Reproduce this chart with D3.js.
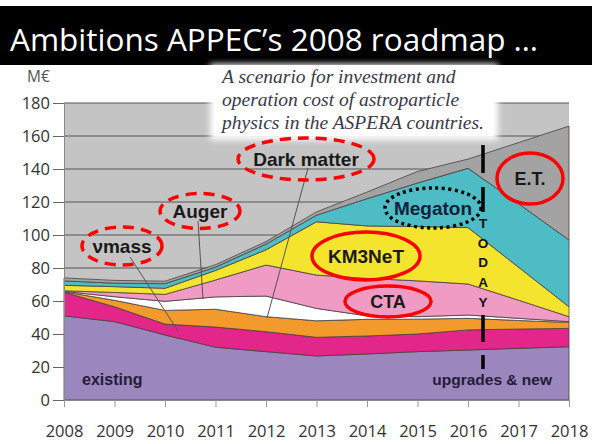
<!DOCTYPE html>
<html>
<head>
<meta charset="utf-8">
<script src="https://cdn.jsdelivr.net/npm/d3@7"></script>
<style>
  body { margin: 0; background: #fff; }
  svg { display: block; }
</style>
</head>
<body>
<div id="chart"></div>
<script>
// years on the x axis
const years = [2008, 2009, 2010, 2011, 2012, 2013, 2014, 2015, 2016, 2017, 2018];

// layer thicknesses in M€, bottom to top
const existing = [51, 47.5, 39.4, 32, 29.3, 26.7, 27.9, 29.3, 30.3, 31.3, 32.3];
const vmass    = [14.3, 9, 6.6, 12.2, 12.1, 11.3, 10.9, 10.7, 12.2, 11.7, 11.1];
const darkMatter = [0.3, 3.9, 8.3, 10.8, 9.1, 10, 10.1, 9, 7, 5.2, 3.6];
const auger    = [0.2, 2.2, 5.5, 7.5, 12.5, 7.5, 2.1, 1.5, 2, 1.3, 0.5];
const cta      = [0.4, 2.6, 4.2, 10.2, 18.8, 20.2, 22.7, 21.7, 18.8, 11, 3];
const km3net   = [3.3, 3.5, 3.7, 5.8, 9.2, 32.3, 31.8, 32.9, 34.2, 20, 6];
const megaton  = [2.7, 2.1, 2.8, 2, 3.5, 4, 16.5, 26.4, 35.9, 38.5, 40.5];
const et       = [1.8, 1.7, 1.5, 1.5, 1.5, 2, 4, 7, 5.6, 37, 69];

const layerKeys = ["existing", "vmass", "darkMatter", "auger", "cta", "km3net", "megaton", "et"];
const layerColors = ["#9b87bd", "#e2268a", "#f39a2c", "#ffffff", "#f09bc3", "#f4e42e", "#4dbcc4", "#a3a3a3"];

const yTicks = [0, 20, 40, 60, 80, 100, 120, 140, 160, 180];

const noteLines = [
  "A scenario for investment and",
  "operation cost of astroparticle",
  "physics in the ASPERA countries."
];

const width = 606, height = 444;
const plot = { left: 64, right: 569, top: 103, bottom: 400 };

const svg = d3.select("#chart").append("svg")
  .attr("width", width)
  .attr("height", height);

const x = d3.scaleLinear().domain([2008, 2018]).range([plot.left, plot.right]);
const y = d3.scaleLinear().domain([0, 180]).range([plot.bottom, plot.top]);

// build table for the stack
const table = years.map((yr, i) => ({
  year: yr,
  existing: existing[i], vmass: vmass[i], darkMatter: darkMatter[i], auger: auger[i],
  cta: cta[i], km3net: km3net[i], megaton: megaton[i], et: et[i]
}));
const series = d3.stack().keys(layerKeys)(table);

// light gray plot background
svg.append("rect")
  .attr("x", plot.left).attr("y", plot.top)
  .attr("width", plot.right - plot.left).attr("height", plot.bottom - plot.top)
  .attr("fill", "#c4c4c4");

// gridlines
svg.append("g")
  .selectAll("line")
  .data(yTicks.filter(d => d > 0))
  .join("line")
  .attr("x1", plot.left).attr("x2", plot.right)
  .attr("y1", d => y(d)).attr("y2", d => y(d))
  .attr("stroke", "#555").attr("stroke-width", 1);

// stacked areas
const area = d3.area()
  .x(d => x(d.data.year))
  .y0(d => y(d[0]))
  .y1(d => y(d[1]));

svg.append("g")
  .selectAll("path")
  .data(series)
  .join("path")
  .attr("d", area)
  .attr("fill", (d, i) => layerColors[i])
  .attr("stroke", "#4a4040")
  .attr("stroke-width", 0.8)
  .attr("stroke-linejoin", "round");

// axes
const yAxis = svg.append("g")
  .attr("transform", `translate(${plot.left},0)`)
  .call(d3.axisLeft(y).tickValues(yTicks).tickSize(11).tickSizeOuter(0).tickPadding(3));
yAxis.select(".domain").attr("stroke", "#888");
yAxis.selectAll(".tick line").attr("stroke", "#666");
yAxis.selectAll("text")
  .attr("font-family", "Open Sans, sans-serif")
  .attr("font-size", 16.5)
  .attr("fill", "#333");

const xAxis = svg.append("g")
  .attr("transform", `translate(0,${plot.bottom})`)
  .call(d3.axisBottom(x).tickValues(years).tickFormat(d3.format("d")).tickSize(7).tickSizeOuter(0).tickPadding(18));
xAxis.select(".domain").attr("stroke", "#888");
xAxis.selectAll(".tick line").attr("stroke", "#999");
xAxis.selectAll("text")
  .attr("font-family", "Open Sans, sans-serif")
  .attr("font-size", 16.5)
  .attr("fill", "#333");

svg.append("text")
  .attr("x", 27).attr("y", 82)
  .attr("font-family", "Open Sans, sans-serif")
  .attr("font-size", 15.5)
  .attr("fill", "#555")
  .text("M€");

// title bar
svg.append("rect")
  .attr("x", 0).attr("y", 6).attr("width", 592).attr("height", 59)
  .attr("fill", "#000");
svg.append("text")
  .attr("x", 10).attr("y", 51)
  .attr("font-family", "Open Sans, sans-serif")
  .attr("font-size", 31.5)
  .attr("fill", "#fff")
  .text("Ambitions APPEC’s 2008 roadmap …");

// note box
const defs = svg.append("defs");
const blur = defs.append("filter").attr("id", "soft")
  .attr("x", "-10%").attr("y", "-20%").attr("width", "120%").attr("height", "140%");
blur.append("feGaussianBlur").attr("stdDeviation", 3);

svg.append("rect")
  .attr("x", 210).attr("y", 64).attr("width", 288).attr("height", 76)
  .attr("fill", "#fff").attr("filter", "url(#soft)");
svg.append("rect")
  .attr("x", 214).attr("y", 66).attr("width", 280).attr("height", 70)
  .attr("fill", "#fff");
svg.append("g")
  .selectAll("text")
  .data(noteLines)
  .join("text")
  .attr("x", 222)
  .attr("y", (d, i) => 83 + i * 23)
  .attr("font-family", "Liberation Serif, serif")
  .attr("font-style", "italic")
  .attr("font-size", 19.5)
  .attr("fill", "#3a3a48")
  .text(d => d);

// pointer lines
const pointers = [
  [[130, 257], [178, 331]],
  [[198, 221], [203, 299]],
  [[308, 168], [267, 318]]
];
svg.append("g")
  .selectAll("line")
  .data(pointers)
  .join("line")
  .attr("x1", d => d[0][0]).attr("y1", d => d[0][1])
  .attr("x2", d => d[1][0]).attr("y2", d => d[1][1])
  .attr("stroke", "#555").attr("stroke-width", 1);

// TODAY marker
const todayX = 483;
svg.append("g")
  .selectAll("line")
  .data([[145, 173], [187, 212], [315, 342], [355, 369]])
  .join("line")
  .attr("x1", todayX).attr("x2", todayX)
  .attr("y1", d => d[0]).attr("y2", d => d[1])
  .attr("stroke", "#000").attr("stroke-width", 3.5);
svg.append("g")
  .selectAll("text")
  .data(["T", "O", "D", "A", "Y"])
  .join("text")
  .attr("x", todayX)
  .attr("y", (d, i) => 228 + i * 19.7)
  .attr("text-anchor", "middle")
  .attr("font-family", "Liberation Sans, sans-serif")
  .attr("font-weight", "bold")
  .attr("font-size", 13.5)
  .attr("fill", "#111")
  .text(d => d);

// labels with ellipses
const callouts = [
  { text: "νmass", cx: 122, cy: 246, rx: 40, ry: 19, style: "dash", size: 19 },
  { text: "Auger", cx: 200, cy: 211, rx: 40, ry: 17.5, style: "dash", size: 19 },
  { text: "Dark matter", cx: 306, cy: 159, rx: 68, ry: 21, style: "dash", size: 19 },
  { text: "Megaton", cx: 433, cy: 208, rx: 48, ry: 20, style: "dot", size: 19 },
  { text: "KM3NeT", cx: 366, cy: 256, rx: 54, ry: 24, style: "solid", size: 19 },
  { text: "CTA", cx: 388, cy: 301.5, rx: 43, ry: 15.5, style: "solid", size: 18 },
  { text: "E.T.", cx: 530, cy: 178.5, rx: 33, ry: 25.5, style: "solid", size: 18 }
];

const callout = svg.append("g")
  .selectAll("g")
  .data(callouts)
  .join("g");

callout.append("text")
  .attr("x", d => d.cx)
  .attr("y", d => d.cy)
  .attr("dy", "0.36em")
  .attr("text-anchor", "middle")
  .attr("font-family", "Liberation Sans, sans-serif")
  .attr("font-weight", "bold")
  .attr("font-size", d => d.size)
  .attr("fill", d => d.text === "Megaton" ? "#12223a" : "#1a1a1a")
  .text(d => d.text);

callout.append("ellipse")
  .attr("cx", d => d.cx).attr("cy", d => d.cy)
  .attr("rx", d => d.rx).attr("ry", d => d.ry)
  .attr("fill", "none")
  .attr("stroke", d => d.style === "dot" ? "#000" : "#f00")
  .attr("stroke-width", 3.5)
  .attr("stroke-dasharray", d => d.style === "dash" ? "11,7" : d.style === "dot" ? "3,3.5" : null);

// bottom labels
svg.append("text")
  .attr("x", 82).attr("y", 385)
  .attr("font-family", "Liberation Sans, sans-serif")
  .attr("font-weight", "bold")
  .attr("font-size", 16)
  .attr("fill", "#241c38")
  .text("existing");
svg.append("text")
  .attr("x", 552).attr("y", 385)
  .attr("text-anchor", "end")
  .attr("font-family", "Liberation Sans, sans-serif")
  .attr("font-weight", "bold")
  .attr("font-size", 15.5)
  .attr("fill", "#241c38")
  .text("upgrades & new");
</script>
</body>
</html>
